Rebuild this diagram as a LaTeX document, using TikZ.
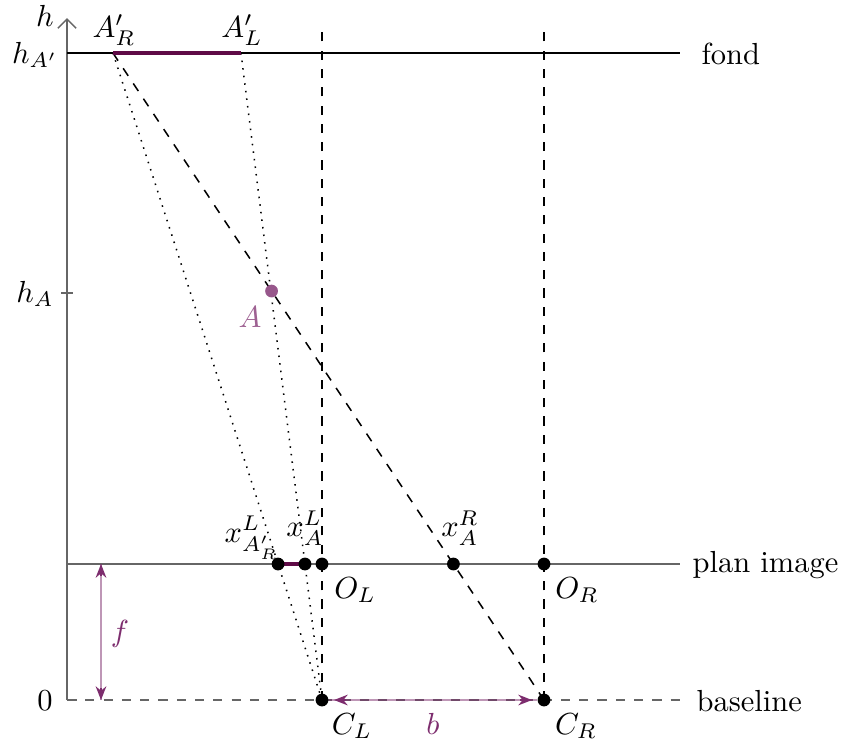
\documentclass[tikz,border=0pt]{standalone}
\usetikzlibrary{calc,arrows.meta}
\definecolor{mypurple}{RGB}{125,45,110}
\definecolor{mydark}{RGB}{95,10,70}
\begin{document}
\begin{tikzpicture}[x=0.328pt,y=-0.328pt,
  dot/.style={circle,fill=black,inner sep=0pt,minimum size=4.2pt},
  pdot/.style={circle,fill=mypurple!80,inner sep=0pt,minimum size=4.2pt},
  grayline/.style={draw=black!60,line width=0.5pt},
  seg/.style={draw=mydark,line width=1.3pt},
  dimline/.style={draw=mypurple,draw opacity=0.5,line width=0.7pt},
  dimtip/.style={draw=mypurple,line width=0.6pt,-{Stealth[mypurple,length=4.5pt,width=3.5pt]}},
  lbl/.style={inner sep=0pt}]
\useasboundingbox (0,0) rectangle (841,740);
% coordinates
\coordinate (ax0) at (67,700);
\coordinate (axtop) at (67,18);
\coordinate (fondL) at (67,53);
\coordinate (fondR) at (680,53);
\coordinate (planL) at (67,564);
\coordinate (planR) at (680,564);
\coordinate (baseL) at (67,700);
\coordinate (baseR) at (680,700);
\coordinate (topL) at (322,28);
\coordinate (topR) at (544,28);
\coordinate (hA) at (67,293);
\coordinate (fT) at (101,564);
\coordinate (fB) at (101,700);
\coordinate (CLc) at (322,700);
\coordinate (CRc) at (544,700);
\coordinate (ApR) at (113,53);
\coordinate (ApL) at (241,53);
\coordinate (xApR) at ($(ApR)!0.7898!(CLc)$);
\coordinate (xAL) at ($(ApL)!0.7898!(CLc)$);
\coordinate (xAR) at ($(ApR)!0.7898!(CRc)$);
\coordinate (Apt) at ($(ApR)!0.3679!(CRc)$);
\coordinate (bL) at (334,700);
\coordinate (bR) at (532,700);
% base lines
\draw[grayline,dashed] (baseL) -- (baseR);
\draw[grayline,-{Straight Barb[length=3pt]}] (ax0) -- (axtop);
\draw[line width=0.5pt] (fondL) -- (fondR);
\draw[grayline] (planL) -- (planR);
\draw[grayline] ($(hA)+(-6,0)$) -- ($(hA)+(6,0)$);
\draw[grayline] (ax0) -- ($(ax0)+(10,0)$);
% verticals
\draw[dashed,line width=0.5pt] (CLc) -- (topL);
\draw[dashed,line width=0.5pt] (CRc) -- (topR);
% rays
\draw[dashed,line width=0.5pt] (ApR) -- (CRc);
\draw[dotted,line width=0.5pt] (ApR) -- (CLc);
\draw[dotted,line width=0.5pt] (ApL) -- (CLc);
% segments
\draw[seg] (ApR) -- (ApL);
\draw[seg] (xApR) -- (xAL);
% points
\node[dot] (OL) at (322,564) {};
\node[dot] (OR) at (544,564) {};
\node[dot] (nxApR) at (xApR) {};
\node[dot] (nxAL) at (xAL) {};
\node[dot] (nxAR) at (xAR) {};
\node[pdot] (A) at (Apt) {};
\node[dot] (CL) at (CLc) {};
\node[dot] (CR) at (CRc) {};
% dimension arrows
\draw[dimline] (fT) -- (fB);
\draw[dimtip] ($(fT)+(0,12)$) -- (fT);
\draw[dimtip] ($(fB)+(0,-12)$) -- (fB);
\draw[dimline] (CL) -- (CR);
\draw[dimtip] ($(bL)+(12,0)$) -- (bL);
\draw[dimtip] ($(bR)+(-12,0)$) -- (bR);
% labels
\node[lbl] (lh) at (45,16) {$h$};
\node[lbl] (lhAp) at (35,55) {$h_{A'}$};
\node[lbl] (lhA) at (35,294) {$h_A$};
\node[lbl] (l0) at (45,701) {$0$};
\node[lbl] (lApR) at (114,30) {$A'_R$};
\node[lbl] (lApL) at (242,30) {$A'_L$};
\node[lbl,text=mypurple!75] (lA) at (250,317) {$A$};
\node[lbl] (lxApR) at (252,538) {$x^L_{A'_R}$};
\node[lbl] (lxAL) at (305,528) {$x^L_A$};
\node[lbl] (lxAR) at (460,528) {$x^R_A$};
\node[lbl] (lOL) at (355,590) {$O_L$};
\node[lbl] (lOR) at (577,590) {$O_R$};
\node[lbl] (lCL) at (352,726) {$C_L$};
\node[lbl] (lCR) at (576,726) {$C_R$};
\node[lbl,text=mypurple] (lf) at (120,634) {$f$};
\node[lbl,text=mypurple] (lb) at (433,724) {$b$};
\node[lbl,anchor=west] (lfond) at (701,54) {fond};
\node[lbl,anchor=west] (lplan) at (692,565) {plan image};
\node[lbl,anchor=west] (lbase) at (696,701) {baseline};
\end{tikzpicture}
\end{document}
